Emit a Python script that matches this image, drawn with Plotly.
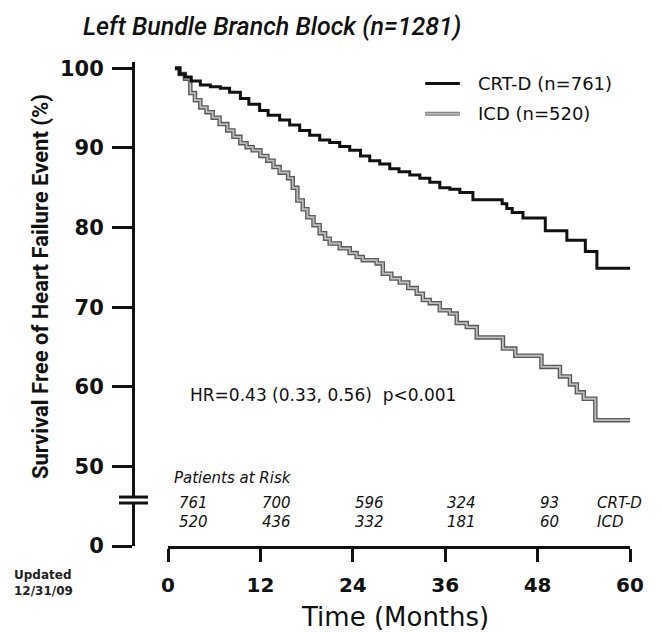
import plotly.graph_objects as go

# ---------------- data ----------------
crt_t = [0.9, 1.5, 2.2, 3.0, 4.2, 5.5, 6.8, 8.0, 9.4, 10.5, 11.9, 13.0, 14.5, 15.8, 17.1, 18.4,
         19.7, 21.0, 22.3, 23.6, 25.0, 26.2, 27.5, 28.8, 30.0, 31.4, 32.7, 34.0, 35.3, 36.6,
         37.9, 39.6, 43.4, 44.0, 44.7, 46.1, 49.0, 51.8, 54.2, 55.7, 60.0]
crt_v = [100, 99.3, 98.9, 98.4, 97.9, 97.7, 97.5, 97.0, 96.2, 95.5, 94.7, 94.1, 93.5, 92.9, 92.2, 91.6,
         91.0, 90.7, 90.2, 89.7, 89.0, 88.4, 88.0, 87.4, 87.0, 86.6, 86.2, 85.7, 85.0, 84.8,
         84.4, 83.5, 83.0, 82.4, 81.9, 81.2, 79.6, 78.4, 77.0, 74.9, 74.9]

icd_t = [0.9, 1.5, 2.2, 2.9, 3.5, 4.2, 5.0, 5.8, 6.7, 7.7, 8.5, 9.4, 10.2, 11.0, 12.0, 12.9, 13.7,
         14.5, 15.6, 16.2, 16.8, 17.5, 18.1, 18.9, 19.7, 20.4, 21.0, 22.3, 23.6, 24.5, 25.3, 27.1,
         27.9, 29.0, 30.1, 31.2, 32.3, 33.1, 34.0, 35.3, 36.6, 37.5, 38.8, 40.1, 43.5, 45.1,
         48.5, 50.9, 52.2, 53.1, 54.0, 55.5, 60.0]
icd_v = [100, 99.3, 98.7, 96.9, 96.0, 95.1, 94.5, 93.8, 93.0, 92.2, 91.4, 90.6, 90.1, 89.7, 89.0, 88.4, 87.6,
         86.9, 86.2, 85.0, 83.4, 82.3, 81.3, 80.3, 79.3, 78.6, 78.0, 77.4, 76.8, 76.3, 75.9, 75.5,
         74.2, 73.6, 73.1, 72.4, 71.7, 70.9, 70.5, 69.6, 69.2, 68.0, 67.5, 66.2, 64.8, 63.9,
         62.5, 61.3, 60.3, 59.3, 58.5, 55.8, 55.8]

x_ticks = [0, 12, 24, 36, 48, 60]
y_tickvals = [40, 50, 60, 70, 80, 90, 100]   # 40 on the broken axis stands for 0
y_ticktext = ["0", "50", "60", "70", "80", "90", "100"]

risk_x = [1.2, 12, 24, 36, 48]
risk_crt = ["761", "700", "596", "324", "93"]
risk_icd = ["520", "436", "332", "181", "60"]
group_names = ["CRT-D", "ICD"]

# ---------------- layout geometry ----------------
W, H = 662, 632
ML, MR, MT, MB = 133, 32, 62, 86
PW, PH = W - ML - MR, H - MT - MB
Y0, Y1 = 40, 100.8
BLACK = "#111111"


def xp(px):
    return (px - ML) / PW


def yp(py):
    return (H - MB - py) / PH


def ypv(v):
    return (v - Y0) / (Y1 - Y0)


fig = go.Figure()
fig.add_trace(go.Scatter(x=icd_t, y=icd_v, mode="lines", line=dict(shape="hv", color="#5a5a5a", width=4.5),
                         showlegend=False, hoverinfo="skip"))
fig.add_trace(go.Scatter(x=icd_t, y=icd_v, mode="lines", line=dict(shape="hv", color="#bdbdbd", width=1.8),
                         name="ICD (n=520)", showlegend=False))
fig.add_trace(go.Scatter(x=crt_t, y=crt_v, mode="lines", line=dict(shape="hv", color=BLACK, width=3),
                         name="CRT-D (n=761)", showlegend=False))

SANS = "DejaVu Sans, sans-serif"
ROB = "Roboto, sans-serif"

shapes = []
# axis break on the y axis
shapes.append(dict(type="rect", xref="paper", yref="paper", x0=xp(124), x1=xp(142),
                   y0=ypv(45.4), y1=ypv(46.15), fillcolor="white", line=dict(width=0), layer="above"))
for yb in [45.4, 46.15]:
    shapes.append(dict(type="line", xref="paper", yref="paper", x0=xp(119), x1=xp(148),
                       y0=ypv(yb), y1=ypv(yb), line=dict(color=BLACK, width=3), layer="above"))
# legend keys
shapes.append(dict(type="line", xref="x", yref="y", x0=33.4, x1=37.9, y0=98.1, y1=98.1,
                   line=dict(color=BLACK, width=3)))
shapes.append(dict(type="line", xref="x", yref="y", x0=33.4, x1=37.9, y0=94.3, y1=94.3,
                   line=dict(color="#7a7a7a", width=4)))
shapes.append(dict(type="line", xref="x", yref="y", x0=33.4, x1=37.9, y0=94.3, y1=94.3,
                   line=dict(color="#b5b5b5", width=2)))

ann = []
ann.append(dict(text="<i>Left Bundle Branch Block (n=1281)</i>", xref="paper", yref="paper",
                x=xp(272), y=yp(27), showarrow=False,
                font=dict(family=ROB, size=25, color=BLACK, weight=500), xanchor="center", yanchor="middle"))
ann.append(dict(text="Survival Free of Heart Failure Event (%)", xref="paper", yref="paper",
                x=xp(40), y=yp(287), textangle=-90, showarrow=False,
                font=dict(family=ROB, size=22, color=BLACK, weight=700), xanchor="center", yanchor="middle"))
ann.append(dict(text="Time (Months)", xref="paper", yref="paper",
                x=xp(395), y=yp(617), showarrow=False,
                font=dict(family=SANS, size=26, color=BLACK), xanchor="center", yanchor="middle"))
ann.append(dict(text="CRT-D (n=761)", xref="x", yref="y", x=40.0, y=98.1, xanchor="left",
                yanchor="middle", showarrow=False, font=dict(family=SANS, size=18, color=BLACK)))
ann.append(dict(text="ICD (n=520)", xref="x", yref="y", x=40.0, y=94.3, xanchor="left",
                yanchor="middle", showarrow=False, font=dict(family=SANS, size=18, color=BLACK)))
ann.append(dict(text="HR=0.43 (0.33, 0.56)  p<0.001", xref="x", yref="y", x=2.6, y=59.0,
                xanchor="left", yanchor="middle", showarrow=False,
                font=dict(family=SANS, size=17, color=BLACK)))
ann.append(dict(text="<i>Patients at Risk</i>", xref="x", yref="y", x=0.5, y=48.5, xanchor="left",
                yanchor="middle", showarrow=False, font=dict(family=SANS, size=15, color=BLACK)))
for xv, a, b in zip(risk_x, risk_crt, risk_icd):
    ann.append(dict(text="<i>%s</i>" % a, xref="x", yref="y", x=xv, y=45.4, xanchor="left",
                    yanchor="middle", showarrow=False, font=dict(family=SANS, size=15, color=BLACK)))
    ann.append(dict(text="<i>%s</i>" % b, xref="x", yref="y", x=xv, y=43.0, xanchor="left",
                    yanchor="middle", showarrow=False, font=dict(family=SANS, size=15, color=BLACK)))
for yv, g in zip([45.4, 43.0], group_names):
    ann.append(dict(text="<i>%s</i>" % g, xref="x", yref="y", x=55.5, y=yv, xanchor="left",
                    yanchor="middle", showarrow=False, font=dict(family=SANS, size=15, color=BLACK)))
ann.append(dict(text="<b>Updated</b><br><b>12/31/09</b>", xref="paper", yref="paper",
                x=xp(12), y=yp(566), xanchor="left", yanchor="top",
                align="left", showarrow=False, font=dict(family=SANS, size=12, color="#222222")))

fig.update_layout(
    width=W, height=H,
    margin=dict(l=ML, r=MR, t=MT, b=MB, autoexpand=False),
    paper_bgcolor="white", plot_bgcolor="white",
    showlegend=False,
    shapes=shapes, annotations=ann,
    xaxis=dict(range=[0, 60], domain=[xp(168), 1], showgrid=False, zeroline=False, automargin=False,
               showline=True, linecolor=BLACK, linewidth=3,
               ticks="outside", ticklen=13, tickwidth=3, tickcolor=BLACK,
               tickvals=x_ticks, ticktext=[str(v) for v in x_ticks],
               tickfont=dict(family=SANS, size=20, color=BLACK, weight=700),
               ticklabelstandoff=6),
    yaxis=dict(range=[Y0, Y1], anchor="free", position=0, automargin=False,
               showgrid=False, zeroline=False,
               showline=True, linecolor=BLACK, linewidth=3,
               ticks="outside", ticklen=20, tickwidth=3, tickcolor=BLACK,
               tickvals=y_tickvals, ticktext=y_ticktext,
               tickfont=dict(family=SANS, size=21, color=BLACK, weight=700),
               ticklabelstandoff=4),
)

fig.write_html("out.html")
